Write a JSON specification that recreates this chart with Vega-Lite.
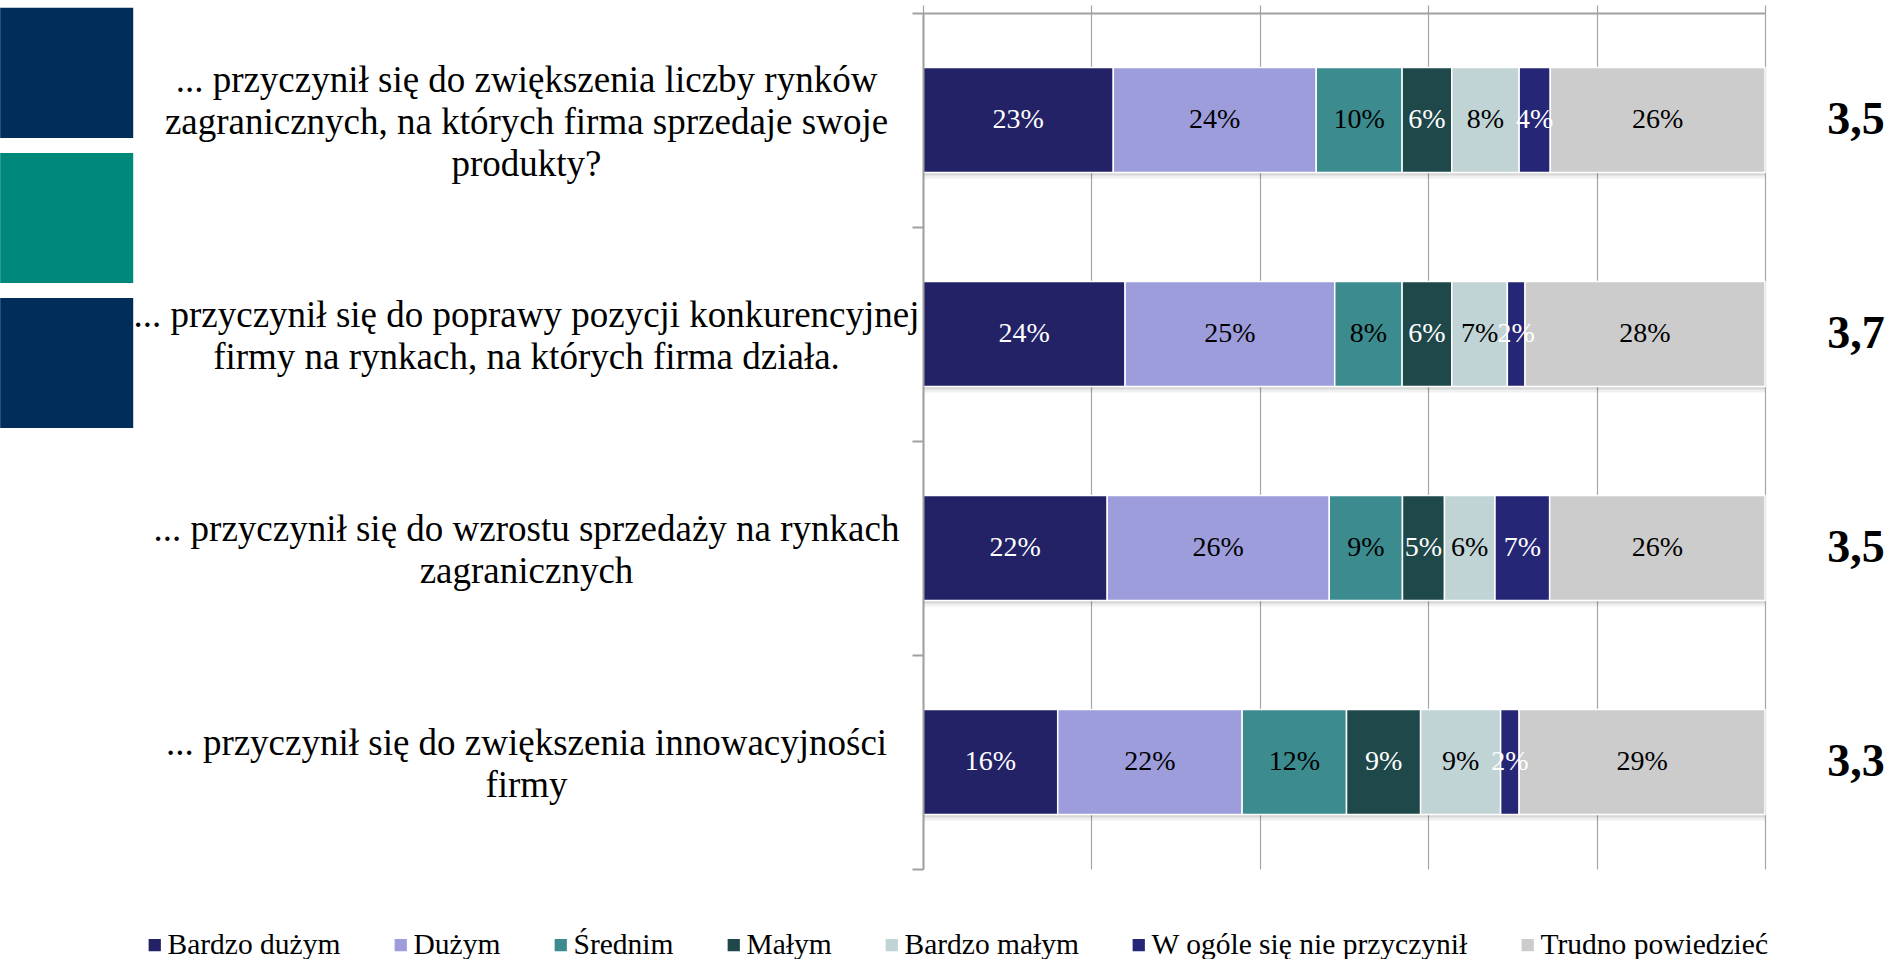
{
  "$schema": "https://vega.github.io/schema/vega-lite/v6.json",
  "width": 842,
  "height": 856,
  "autosize": {"type": "none"},
  "padding": {"left": 923, "top": 13, "right": 127, "bottom": 90},
  "background": "white",
  "config": {"view": {"stroke": null}, "font": "Liberation Serif"},
  "datasets": {
    "questions": [
      {"qid": "q1", "label": "... przyczynił się do zwiększenia liczby rynków\nzagranicznych, na których firma sprzedaje swoje\nprodukty?", "score": "3,5"},
      {"qid": "q2", "label": "... przyczynił się do poprawy pozycji konkurencyjnej\nfirmy na rynkach, na których firma działa.", "score": "3,7"},
      {"qid": "q3", "label": "... przyczynił się do wzrostu sprzedaży na rynkach\nzagranicznych", "score": "3,5"},
      {"qid": "q4", "label": "... przyczynił się do zwiększenia innowacyjności\nfirmy", "score": "3,3"}
    ],
    "seg": [
      {"qid": "q1", "s": "Bardzo dużym", "v": 22.6, "lab": "23%"},
      {"qid": "q1", "s": "Dużym", "v": 24.1, "lab": "24%"},
      {"qid": "q1", "s": "Średnim", "v": 10.2, "lab": "10%"},
      {"qid": "q1", "s": "Małym", "v": 5.9, "lab": "6%"},
      {"qid": "q1", "s": "Bardzo małym", "v": 8.0, "lab": "8%"},
      {"qid": "q1", "s": "W ogóle się nie przyczynił", "v": 3.7, "lab": "4%"},
      {"qid": "q1", "s": "Trudno powiedzieć", "v": 25.5, "lab": "26%"},
      {"qid": "q2", "s": "Bardzo dużym", "v": 24.0, "lab": "24%"},
      {"qid": "q2", "s": "Dużym", "v": 24.9, "lab": "25%"},
      {"qid": "q2", "s": "Średnim", "v": 8.0, "lab": "8%"},
      {"qid": "q2", "s": "Małym", "v": 5.9, "lab": "6%"},
      {"qid": "q2", "s": "Bardzo małym", "v": 6.6, "lab": "7%"},
      {"qid": "q2", "s": "W ogóle się nie przyczynił", "v": 2.1, "lab": "2%"},
      {"qid": "q2", "s": "Trudno powiedzieć", "v": 28.5, "lab": "28%"},
      {"qid": "q3", "s": "Bardzo dużym", "v": 21.9, "lab": "22%"},
      {"qid": "q3", "s": "Dużym", "v": 26.4, "lab": "26%"},
      {"qid": "q3", "s": "Średnim", "v": 8.7, "lab": "9%"},
      {"qid": "q3", "s": "Małym", "v": 5.0, "lab": "5%"},
      {"qid": "q3", "s": "Bardzo małym", "v": 6.0, "lab": "6%"},
      {"qid": "q3", "s": "W ogóle się nie przyczynił", "v": 6.5, "lab": "7%"},
      {"qid": "q3", "s": "Trudno powiedzieć", "v": 25.6, "lab": "26%"},
      {"qid": "q4", "s": "Bardzo dużym", "v": 16.0, "lab": "16%"},
      {"qid": "q4", "s": "Dużym", "v": 21.9, "lab": "22%"},
      {"qid": "q4", "s": "Średnim", "v": 12.4, "lab": "12%"},
      {"qid": "q4", "s": "Małym", "v": 8.8, "lab": "9%"},
      {"qid": "q4", "s": "Bardzo małym", "v": 9.5, "lab": "9%"},
      {"qid": "q4", "s": "W ogóle się nie przyczynił", "v": 2.2, "lab": "2%"},
      {"qid": "q4", "s": "Trudno powiedzieć", "v": 29.2, "lab": "29%"}
    ]
  },
  "layer": [
    {
      "data": {"values": [{}]},
      "layer": [
        {
          "mark": {"type": "rect", "color": "#002D5A"},
          "encoding": {
            "x": {"datum": -1.096, "type": "quantitative", "scale": {"domain": [0, 1]}},
            "x2": {"datum": -0.938},
            "y": {"datum": -0.006, "type": "quantitative", "scale": {"domain": [0, 1], "reverse": true}, "axis": null},
            "y2": {"datum": 0.146}
          }
        },
        {
          "mark": {"type": "rect", "color": "#00897B"},
          "encoding": {
            "x": {"datum": -1.096, "type": "quantitative", "scale": {"domain": [0, 1]}},
            "x2": {"datum": -0.938},
            "y": {"datum": 0.1636, "type": "quantitative", "scale": {"domain": [0, 1], "reverse": true}, "axis": null},
            "y2": {"datum": 0.3154}
          }
        },
        {
          "mark": {"type": "rect", "color": "#002D5A"},
          "encoding": {
            "x": {"datum": -1.096, "type": "quantitative", "scale": {"domain": [0, 1]}},
            "x2": {"datum": -0.938},
            "y": {"datum": 0.333, "type": "quantitative", "scale": {"domain": [0, 1], "reverse": true}, "axis": null},
            "y2": {"datum": 0.4848}
          }
        }
      ]
    },
    {
      "layer": [
        {
          "data": {"name": "seg"},
          "transform": [
            {"lookup": "qid", "from": {"data": {"name": "questions"}, "key": "qid", "fields": ["label"]}},
            {"stack": "v", "groupby": ["qid"], "offset": "normalize", "as": ["x0", "x1"]}
          ],
          "layer": [
            {
              "mark": {"type": "bar", "color": "#000000", "opacity": 0.1, "yOffset": 3, "height": {"band": 0.49}},
              "encoding": {
                "x": {"field": "x0", "type": "quantitative", "scale": {"domain": [0, 1]}},
                "x2": {"field": "x1"},
                "y": {"field": "label", "type": "nominal", "sort": null}
              }
            },
            {
              "mark": {"type": "bar", "color": "#000000", "opacity": 0.06, "yOffset": 6, "height": {"band": 0.49}},
              "encoding": {
                "x": {"field": "x0", "type": "quantitative", "scale": {"domain": [0, 1]}},
                "x2": {"field": "x1"},
                "y": {"field": "label", "type": "nominal", "sort": null}
              }
            },
            {
              "mark": {"type": "bar", "height": {"band": 0.49}, "stroke": "#ffffff", "strokeWidth": 1.5},
              "encoding": {
                "x": {
                  "field": "x0", "type": "quantitative",
                  "scale": {"domain": [0, 1]},
                  "axis": {
                    "orient": "top", "title": null, "labels": false,
                    "values": [0, 0.2, 0.4, 0.6, 0.8, 1],
                    "grid": true, "gridColor": "#a6a6a6", "gridWidth": 1.2,
                    "domainColor": "#a0a0a0", "domainWidth": 2,
                    "tickColor": "#a0a0a0", "tickSize": 8, "tickWidth": 1.2,
                    "zindex": 0
                  }
                },
                "x2": {"field": "x1"},
                "y": {
                  "field": "label", "type": "nominal", "sort": null,
                  "scale": {"paddingInner": 0, "paddingOuter": 0},
                  "axis": {
                    "title": null, "orient": "left",
                    "domainColor": "#a0a0a0", "domainWidth": 2,
                    "tickColor": "#a0a0a0", "tickWidth": 2, "tickSize": 11, "tickBand": "extent",
                    "labelFont": "Liberation Serif", "labelFontSize": 37, "labelColor": "#000000",
                    "labelAlign": "center", "labelBaseline": "middle",
                    "labelPadding": 386,
                    "labelLimit": 2000, "labelLineHeight": 42,
                    "labelOffset": {"condition": {"test": "length(split(datum.value, '\\n')) > 2", "value": -40}, "value": -19},
                    "labelExpr": "split(datum.label, '\\n')",
                    "zindex": 1
                  }
                },
                "color": {
                  "field": "s", "type": "nominal",
                  "scale": {
                    "domain": ["Bardzo dużym", "Dużym", "Średnim", "Małym", "Bardzo małym", "W ogóle się nie przyczynił", "Trudno powiedzieć"],
                    "range": ["#232266", "#9E9DDC", "#3C8B8F", "#1F484A", "#C0D3D5", "#262676", "#CCCCCC"]
                  },
                  "legend": {
                    "title": null, "orient": "none", "legendX": -783, "legendY": 917,
                    "direction": "horizontal", "columns": 7,
                    "symbolType": "square", "symbolSize": 150, "symbolStrokeWidth": 0,
                    "labelFont": "Liberation Serif", "labelFontSize": 29.5, "labelColor": "#000000",
                    "labelOffset": -2, "columnPadding": 45, "labelLimit": 600
                  }
                }
              }
            },
            {
              "transform": [
                {"fold": ["x0", "x1"], "as": ["k", "xv"]},
                {"aggregate": [{"op": "mean", "field": "xv", "as": "xm"}], "groupby": ["label", "s", "lab"]}
              ],
              "mark": {"type": "text", "font": "Liberation Serif", "fontSize": 28, "align": "center", "baseline": "middle"},
              "encoding": {
                "x": {"field": "xm", "type": "quantitative"},
                "y": {"field": "label", "type": "nominal", "sort": null},
                "text": {"field": "lab"},
                "color": {
                  "condition": {"test": "datum.s === 'Bardzo dużym' || datum.s === 'Małym' || datum.s === 'W ogóle się nie przyczynił'", "value": "#ffffff"},
                  "value": "#000000"
                }
              }
            }
          ]
        },
        {
          "data": {"name": "questions"},
          "mark": {"type": "text", "font": "Liberation Serif", "fontSize": 46, "fontWeight": "bold", "align": "center", "baseline": "middle", "color": "#000000"},
          "encoding": {
            "x": {"datum": 1.108, "type": "quantitative"},
            "y": {"field": "label", "type": "nominal", "sort": null},
            "text": {"field": "score"}
          }
        }
      ]
    }
  ],
  "resolve": {"scale": {"y": "independent"}}
}
